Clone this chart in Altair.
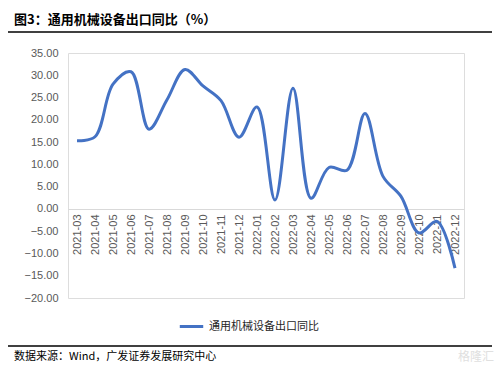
import altair as alt
import pandas as pd

months = ["2021-03", "2021-04", "2021-05", "2021-06", "2021-07", "2021-08",
          "2021-09", "2021-10", "2021-11", "2021-12", "2022-01", "2022-02",
          "2022-03", "2022-04", "2022-05", "2022-06", "2022-07", "2022-08",
          "2022-09", "2022-10", "2022-11", "2022-12"]
values = [15.3, 16.2, 28.0, 30.8, 17.9, 24.5, 31.3, 27.6, 24.3, 16.1, 22.9, 2.0,
          27.1, 2.4, 9.3, 8.7, 21.4, 7.3, 2.8, -5.4, -2.8, -13.3]
series_name = "通用机械设备出口同比"
title_text = "图3：通用机械设备出口同比（%）"
source_text = "数据来源：Wind，广发证券发展研究中心"
y_ticks = [-20, -15, -10, -5, 0, 5, 10, 15, 20, 25, 30, 35]

W, H = 396, 245
CJK = "Noto Sans CJK SC"
LAT = "Liberation Sans"

df = pd.DataFrame({"month": months, "value": values, "series": series_name})

x_enc = alt.X("month:O", sort=months,
              scale=alt.Scale(type="point", padding=0.5),
              axis=alt.Axis(title=None, labelAngle=-90, labelFont=LAT, labelFontSize=11,
                            labelColor="#595959", ticks=False, domainColor="#d9d9d9",
                            domainWidth=1, offset=-89, labelPadding=5))
y_enc = alt.Y("value:Q", scale=alt.Scale(domain=[-20, 35], nice=False, zero=False),
              axis=alt.Axis(title=None, values=y_ticks, format=".2f", grid=False,
                            domain=False, ticks=False, labelFont=LAT, labelFontSize=11,
                            labelColor="#595959", labelPadding=10))

line = alt.Chart(df).mark_line(strokeWidth=3, interpolate="catmull-rom").encode(
    x=x_enc, y=y_enc,
    color=alt.Color("series:N", scale=alt.Scale(range=["#4472C4"]),
                    legend=alt.Legend(title=None, orient="none", legendX=110, legendY=260,
                                      symbolType="stroke", symbolStrokeWidth=3,
                                      symbolSize=550, labelFont=CJK, labelFontSize=11,
                                      labelColor="#262626")),
)

one = pd.DataFrame({"t": [title_text]})
title = alt.Chart(one).mark_text(align="left", baseline="middle", font=CJK,
                                 fontSize=13, fontWeight="bold", color="#000000").encode(
    text="t:N", x=alt.value(-54), y=alt.value(-33))

src = alt.Chart(pd.DataFrame({"t": [source_text]})).mark_text(
    align="left", baseline="middle", font=CJK, fontSize=11, color="#000000").encode(
    text="t:N", x=alt.value(-54), y=alt.value(304))

wm = alt.Chart(pd.DataFrame({"t": ["格隆汇"]})).mark_text(
    align="left", baseline="middle", font=CJK, fontSize=12, color="#e0e0e0").encode(
    text="t:N", x=alt.value(390), y=alt.value(304))

rule_top = alt.Chart(one).mark_rule(color="#000000", strokeWidth=1.5).encode(
    x=alt.value(-60), x2=alt.value(424), y=alt.value(-21))
rule_bot = alt.Chart(one).mark_rule(color="#000000", strokeWidth=1.5).encode(
    x=alt.value(-60), x2=alt.value(424), y=alt.value(293))

chart = alt.layer(line, title, src, wm, rule_top, rule_bot).properties(
    width=W, height=H,
    autosize=alt.AutoSizeParams(type="none"),
    padding={"left": 60, "top": 45, "right": 31, "bottom": 66},
).configure_view(stroke=None).configure(background="white")

chart.save("out.html", embed_options={"renderer": "svg", "actions": False})
